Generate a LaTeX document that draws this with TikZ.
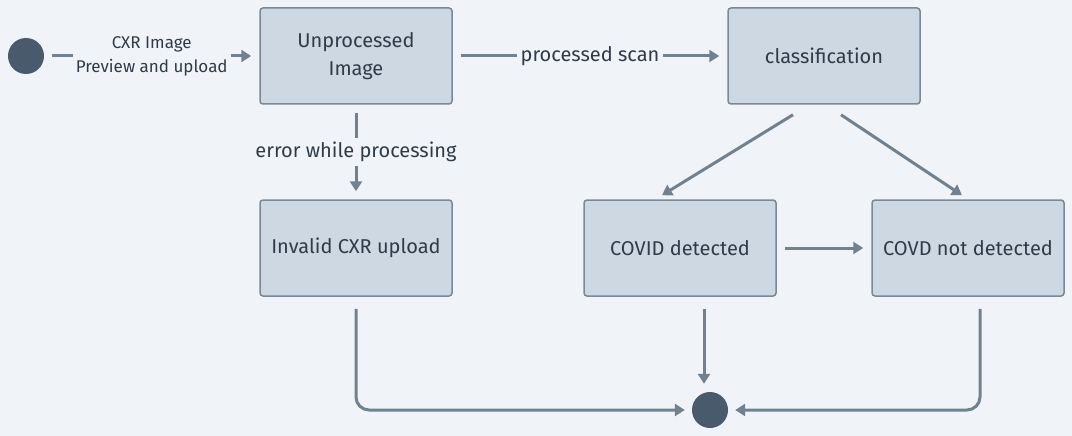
\documentclass[tikz,border=0pt]{standalone}
\usepackage{fontspec}
\setmainfont{Fira Sans}
\usetikzlibrary{arrows.meta,calc}

\definecolor{bgcol}{HTML}{F0F4F8}
\definecolor{boxfill}{HTML}{CDD8E2}
\definecolor{boxline}{HTML}{7A8998}
\definecolor{linecol}{HTML}{718190}
\definecolor{dotcol}{HTML}{485A6B}
\definecolor{txtcol}{HTML}{2F3B48}

\tikzset{
  state/.style={draw=boxline, fill=boxfill, line width=1.5pt, rounded corners=3pt,
    minimum width=192pt, minimum height=96pt, align=center, text=txtcol,
    font=\fontsize{20}{28}\selectfont},
  dot/.style={circle, fill=dotcol, minimum size=36pt, inner sep=0pt},
  flow/.style={draw=linecol, line width=3pt, -{Triangle[length=10pt,width=12pt]}},
  lbl/.style={fill=bgcol, text=txtcol, inner sep=4pt, align=center,
    font=\fontsize{20}{24}\selectfont},
  smalllbl/.style={lbl, inner sep=3pt, font=\fontsize{17}{24}\selectfont}
}

\begin{document}
\begin{tikzpicture}[x=1pt,y=-1pt]
  \fill[bgcol] (0,0) rectangle (1072,436);
  \useasboundingbox (0,0) rectangle (1072,436);

  % states
  \node[dot]   (start)    at (26,56)   {};
  \node[state] (unproc)   at (356,56)  {Unprocessed\\Image};
  \node[state] (classif)  at (824,56)  {classification};
  \node[state] (invalid)  at (356,248) {Invalid CXR upload};
  \node[state] (covid)    at (680,248) {COVID detected};
  \node[state] (nocovid)  at (968,248) {COVD not detected};
  \node[dot]   (stop)     at (710,410) {};

  % transitions
  \draw[flow, shorten <=8pt, shorten >=8pt] (start) -- node[smalllbl] {CXR Image\\Preview and upload} (unproc);
  \draw[flow, shorten <=8pt, shorten >=8pt] (unproc) -- node[lbl] {processed scan} (classif);
  \draw[flow, shorten <=8pt, shorten >=8pt] (unproc) -- node[lbl] {error while processing} (invalid);
  \draw[flow] ([xshift=-31pt,yshift=-10pt]classif.south) -- ([xshift=-18pt,yshift=4pt]covid.north);
  \draw[flow] ([xshift=17pt,yshift=-10pt]classif.south) -- ([xshift=-6pt,yshift=4pt]nocovid.north);
  \draw[flow, shorten <=8pt, shorten >=8pt] (covid) -- (nocovid);
  \draw[flow] ([xshift=24pt,yshift=-12pt]covid.south) -- ([xshift=-6pt,yshift=8pt]stop.north);
  \draw[flow, rounded corners=13pt, shorten >=7pt] ([yshift=-12pt]invalid.south) |- (stop);
  \draw[flow, rounded corners=13pt, shorten >=7pt] ([xshift=12pt,yshift=-12pt]nocovid.south) |- (stop);
\end{tikzpicture}
\end{document}
